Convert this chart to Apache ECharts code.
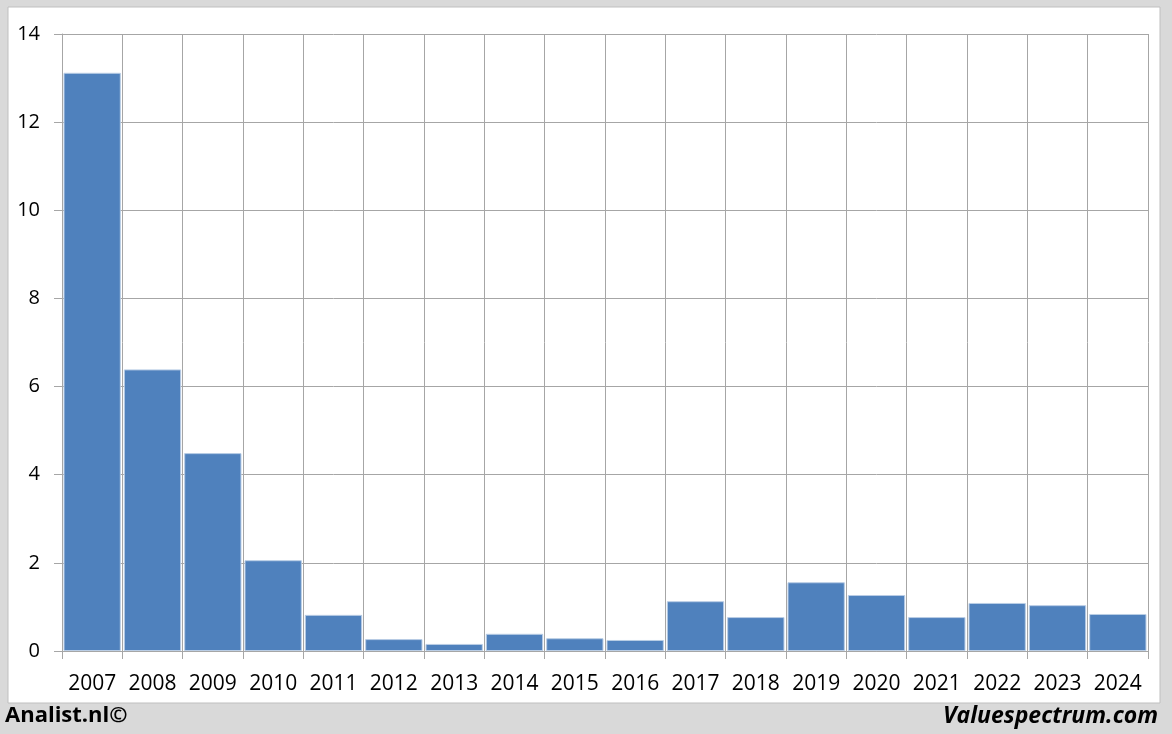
<!DOCTYPE html>
<html><head><meta charset="utf-8">
<script src="https://cdn.jsdelivr.net/npm/echarts@6/dist/echarts.min.js"></script>
<style>html,body{margin:0;padding:0;background:#d9d9d9;}#c{width:1172px;height:734px;}</style>
</head><body><div id="c"></div>
<script>
const years = ['2007','2008','2009','2010','2011','2012','2013','2014','2015','2016','2017','2018','2019','2020','2021','2022','2023','2024'];
const values = [13.12, 6.39, 4.49, 2.06, 0.82, 0.27, 0.16, 0.39, 0.29, 0.25, 1.13, 0.77, 1.56, 1.27, 0.77, 1.09, 1.04, 0.84];
const yTicks = [0, 2, 4, 6, 8, 10, 12, 14];
const leftCredit = 'Analist.nl©';
const rightCredit = 'Valuespectrum.com';

const chart = echarts.init(document.getElementById('c'), null, {renderer: 'canvas'});
const font = '"Open Sans", "Liberation Sans", sans-serif';
chart.setOption({
  backgroundColor: '#d9d9d9',
  animation: false,
  graphic: [
    {type: 'rect', shape: {x: 8, y: 7, width: 1152, height: 696}, style: {fill: '#ffffff', stroke: '#bfbfbf', lineWidth: 1}, z: -10},
    {type: 'text', left: 5, top: 705, style: {text: leftCredit, font: 'bold 22px ' + font, fill: '#000'}},
    {type: 'text', right: 14, top: 705, style: {text: rightCredit, font: 'italic bold 23px ' + font, fill: '#000'}}
  ],
  grid: {left: 62, right: 24, top: 34, bottom: 83, containLabel: false},
  xAxis: {
    type: 'category', data: years, boundaryGap: true,
    axisLine: {lineStyle: {color: '#a6a6a6', width: 1}},
    axisTick: {show: true, alignWithLabel: false, length: 8, lineStyle: {color: '#a6a6a6'}},
    splitLine: {show: true, lineStyle: {color: '#a6a6a6', width: 1}},
    axisLabel: {color: '#000', fontSize: 21, fontFamily: font, margin: 23, interval: 0}
  },
  yAxis: {
    type: 'value', min: 0, max: 14, interval: 2,
    axisLine: {show: true, lineStyle: {color: '#a6a6a6'}},
    axisTick: {show: true, length: 8, lineStyle: {color: '#a6a6a6'}},
    splitLine: {show: true, lineStyle: {color: '#a6a6a6', width: 1}},
    axisLabel: {color: '#000', fontSize: 20, fontFamily: font, margin: 22,
      formatter: v => yTicks.includes(v) ? String(v) : ''}
  },
  series: [{
    type: 'bar', data: values, barCategoryGap: '5%',
    itemStyle: {color: '#4f81bd', borderColor: '#b9cde5', borderWidth: 1}
  }]
});
</script></body></html>
